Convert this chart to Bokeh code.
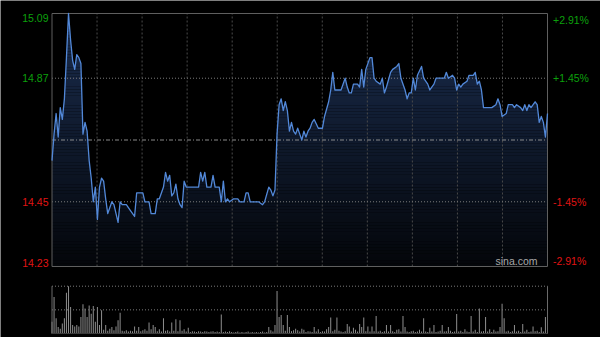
from bokeh.plotting import figure
from bokeh.models import Range1d
from bokeh.core.properties import value
from bokeh.embed import file_html
from bokeh.resources import INLINE
import numpy as np

# ---------------- data ----------------
prev_close = 14.66
price_low, price_high = 14.23, 15.09
left_ticks = ["15.09", "14.87", "14.45", "14.23"]
right_ticks = ["+2.91%", "+1.45%", "-1.45%", "-2.91%"]
tick_prices = [15.09, 14.87, 14.45, 14.23]

times = [0, 1, 2, 3, 4, 5, 6, 7, 8, 9,
         10, 11, 12, 13, 14, 15, 16, 17, 18, 19,
         20, 21, 22, 23, 24, 25, 26, 27, 29, 30,
         32, 33, 34, 36, 38, 40, 41, 43, 44, 45,
         47, 48, 50, 51, 52, 54, 55, 56, 57, 58,
         59, 60, 61, 62, 63, 64, 65, 71, 72, 73,
         74, 75, 77, 78, 79, 81, 82, 83, 84, 85,
         86, 88, 90, 91, 93, 94, 95, 96, 100, 102,
         103, 105, 106, 107, 108, 109, 110, 111, 112, 113,
         114, 115, 116, 117, 118, 119, 120, 121, 122, 123,
         124, 125, 126, 127, 129, 131, 132, 134, 135, 136,
         137, 138, 140, 142, 143, 144, 145, 146, 148, 149,
         150, 151, 152, 154, 155, 156, 157, 159, 160, 161,
         162, 164, 165, 167, 168, 169, 171, 172, 173, 174,
         175, 176, 177, 179, 180, 182, 183, 185, 186, 190,
         191, 192, 194, 195, 196, 197, 198, 199, 201, 202,
         204, 205, 206, 207, 208, 209, 211, 213, 215, 216,
         217, 218, 220, 221, 223, 224, 225, 227, 228, 229,
         230, 231, 232, 234, 235, 236, 237, 238, 239, 240]

prices = [14.59, 14.68, 14.75, 14.67, 14.77, 14.73, 14.80, 14.94, 15.09, 15.00,
          14.93, 14.90, 14.95, 14.94, 14.92, 14.68, 14.72, 14.69, 14.59, 14.53,
          14.45, 14.50, 14.39, 14.50, 14.53, 14.52, 14.46, 14.41, 14.45, 14.44,
          14.38, 14.45, 14.44, 14.44, 14.42, 14.40, 14.48, 14.48, 14.48, 14.45,
          14.45, 14.41, 14.41, 14.46, 14.46, 14.50, 14.55, 14.52, 14.54, 14.47,
          14.48, 14.51, 14.46, 14.44, 14.43, 14.52, 14.50, 14.50, 14.55, 14.52,
          14.55, 14.50, 14.50, 14.54, 14.50, 14.50, 14.45, 14.52, 14.45, 14.46,
          14.45, 14.46, 14.46, 14.45, 14.45, 14.48, 14.48, 14.45, 14.45, 14.44,
          14.45, 14.50, 14.49, 14.47, 14.49, 14.68, 14.78, 14.80, 14.76, 14.79,
          14.76, 14.69, 14.72, 14.69, 14.68, 14.70, 14.68, 14.66, 14.69, 14.67,
          14.69, 14.70, 14.72, 14.73, 14.70, 14.70, 14.74, 14.79, 14.83, 14.89,
          14.83, 14.83, 14.83, 14.87, 14.84, 14.82, 14.82, 14.85, 14.85, 14.84,
          14.90, 14.84, 14.90, 14.94, 14.94, 14.87, 14.86, 14.85, 14.87, 14.82,
          14.84, 14.89, 14.90, 14.91, 14.92, 14.87, 14.83, 14.80, 14.82, 14.82,
          14.87, 14.83, 14.88, 14.91, 14.87, 14.85, 14.83, 14.85, 14.87, 14.87,
          14.89, 14.87, 14.88, 14.87, 14.83, 14.85, 14.84, 14.85, 14.86, 14.88,
          14.88, 14.89, 14.85, 14.86, 14.83, 14.77, 14.77, 14.77, 14.78, 14.80,
          14.78, 14.74, 14.75, 14.78, 14.78, 14.77, 14.78, 14.77, 14.76, 14.78,
          14.76, 14.78, 14.77, 14.79, 14.78, 14.72, 14.74, 14.72, 14.67, 14.75]

volume = [25, 77, 32, 14, 10, 21, 32, 86, 100, 56,
          18, 15, 18, 15, 35, 62, 53, 35, 59, 42,
          58, 25, 56, 18, 49, 8, 18, 6, 10, 14,
          7, 15, 28, 44, 6, 5, 7, 4, 6, 5,
          15, 6, 14, 5, 7, 9, 6, 23, 9, 18,
          14, 5, 9, 4, 32, 6, 7, 4, 23, 6,
          30, 5, 28, 6, 9, 4, 12, 3, 5, 4,
          3, 5, 4, 3, 5, 4, 3, 4, 5, 3,
          4, 3, 40, 3, 4, 3, 5, 3, 2, 3,
          4, 2, 3, 2, 3, 4, 2, 3, 2, 3,
          2, 3, 4, 2, 3, 14, 7, 4, 18, 90,
          35, 39, 18, 6, 39, 14, 5, 7, 10, 7,
          4, 10, 8, 3, 5, 4, 3, 14, 4, 9,
          3, 5, 4, 9, 14, 34, 5, 8, 34, 6,
          4, 3, 5, 20, 15, 4, 12, 8, 4, 20,
          14, 34, 5, 15, 4, 15, 5, 37, 4, 6,
          3, 5, 18, 4, 18, 5, 3, 8, 9, 4,
          37, 14, 4, 3, 5, 6, 3, 4, 8, 4,
          32, 4, 3, 12, 4, 18, 3, 4, 6, 18,
          4, 5, 14, 6, 3, 4, 41, 4, 6, 3,
          9, 4, 3, 37, 4, 8, 3, 53, 4, 5,
          35, 4, 9, 3, 8, 4, 5, 14, 63, 32,
          4, 6, 3, 5, 18, 4, 6, 3, 20, 4,
          8, 3, 4, 15, 5, 6, 3, 13, 4, 35,
          9]
vol_minutes = list(range(len(volume)))
vol_max = 100

# ---------------- layout (pixel geometry of the page) ----------------
W, H = 600, 337
fx0, fx1 = 51.5, 547.0          # px of minute 0 / minute 240
fy_top, fy_bot = 13.0, 266.0    # px of price_high / price_low
vy_top, vy_bot = 285.7, 333.0   # px of vol_max / 0
n_min = 240

mpp = n_min / (fx1 - fx0)
ppp = (price_high - price_low) / (fy_bot - fy_top)
vpp = vol_max / (vy_bot - vy_top)

x_range = Range1d(-fx0 * mpp, n_min + (W - fx1) * mpp)
y_range = Range1d(price_low - (H - fy_bot) * ppp, price_high + fy_top * ppp)

p = figure(width=W, height=H, x_range=x_range, y_range=y_range,
           output_backend="svg", toolbar_location=None,
           x_axis_location=None, y_axis_location=None,
           min_border=0, background_fill_color="black",
           border_fill_color="black")
p.outline_line_color = None
p.grid.visible = False
p.extra_y_ranges = {"vol": Range1d(-(H - vy_bot) * vpp, vy_bot * vpp)}

# gradient background under the price line (bands), then black mask above line
nb = 80
edges = np.linspace(price_low, price_high, nb + 1)
c_top = np.array([27, 46, 80])
c_bot = np.array([4, 6, 10])
cols = []
for i in range(nb):
    t = (i + 0.5) / nb
    c = (c_bot + (c_top - c_bot) * t).astype(int)
    cols.append("#%02x%02x%02x" % tuple(c))
p.quad(left=0, right=n_min, bottom=edges[:-1], top=edges[1:],
       fill_color=cols, line_color=None)
p.varea(x=times, y1=prices, y2=price_high, fill_color="black")

# grid lines
vx = [n_min * k / 11 for k in range(1, 11)]
p.segment(x0=vx, x1=vx, y0=price_low, y1=price_high,
          line_color="#4a4a4a", line_width=1, line_dash="2 2")
p.segment(x0=0, x1=n_min, y0=[tick_prices[1], tick_prices[2]],
          y1=[tick_prices[1], tick_prices[2]],
          line_color="#7a7a7a", line_width=1, line_dash="1 2")
p.segment(x0=0, x1=n_min, y0=prev_close, y1=prev_close,
          line_color="#8a8a8a", line_width=1, line_dash="4 2 1 2")

# frame
p.quad(left=0, right=n_min, bottom=price_low, top=price_high,
       fill_color=None, line_color="#5f5f5f", line_width=1)

# price line
p.line(times, prices, line_color="#5288d8", line_width=1.3, line_join="round")

# volume panel
p.vbar(x=vol_minutes, top=volume, bottom=0, width=0.5,
       fill_color="#8a8a8a", line_color=None, y_range_name="vol")
p.segment(x0=0, x1=n_min, y0=[vol_max, vol_max / 2], y1=[vol_max, vol_max / 2],
          line_color="#7a7a7a", line_width=1, line_dash="1 2", y_range_name="vol")
p.segment(x0=[0, n_min], x1=[0, n_min], y0=0, y1=vol_max,
          line_color="#6a6a6a", line_width=1, y_range_name="vol")
p.segment(x0=0, x1=n_min, y0=0, y1=0, line_color="#3a3a3a", line_width=1,
          y_range_name="vol")

# tick labels
green, red = "#0ca00c", "#e01414"
lab_cols = [green, green, red, red]
baselines = ["top", "middle", "middle", "bottom"]
for txt, rt, yv, c, b in zip(left_ticks, right_ticks, tick_prices, lab_cols, baselines):
    p.text(x=[-3.5 * mpp], y=[yv], text=[txt], text_align="right",
           text_baseline=b, text_color=c, text_font=value("Liberation Sans"),
           text_font_size="10.5px")
    p.text(x=[n_min + 5.5 * mpp], y=[yv], text=[rt], text_align="left",
           text_baseline=b, text_color=c, text_font=value("Liberation Sans"),
           text_font_size="10.5px")

p.text(x=[n_min - 10 * mpp], y=[price_low], text=["sina.com"], text_align="right",
       text_baseline="bottom", text_color="#a8a8a8",
       text_font=value("Liberation Sans"), text_font_size="10.5px")

open("out.html", "w").write(file_html(p, INLINE))
